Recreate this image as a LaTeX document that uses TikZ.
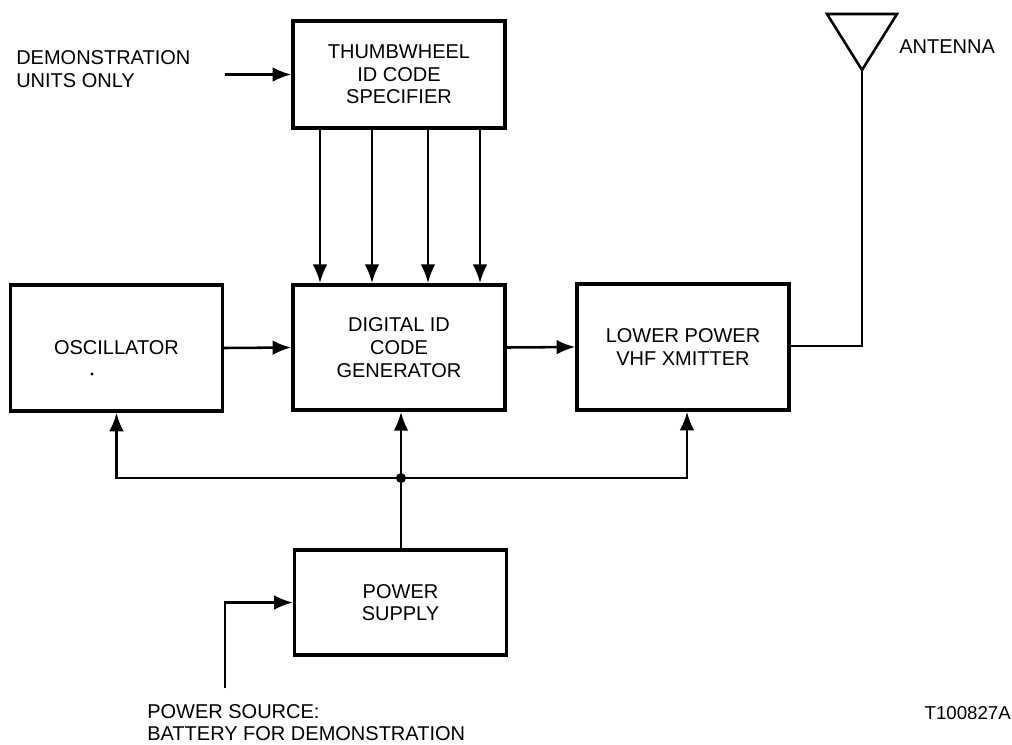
\documentclass[tikz,border=0pt]{standalone}
\usepackage{fontspec}
\setmainfont{Liberation Sans}
\usetikzlibrary{arrows.meta}
\tikzset{
  blk/.style={draw, line width=2.6pt, minimum width=159pt, align=center, inner sep=0pt},
  conn/.style={line width=1.9pt},
  tip/.style={-{Latex[length=14pt,width=11pt]}},
  lbl/.style={align=left, inner sep=0pt}
}
\begin{document}
\begin{tikzpicture}[x=0.75pt,y=0.75pt,yscale=-1,xscale=1,
  font=\fontsize{15}{17}\selectfont]
\useasboundingbox (0,0) rectangle (1012,744);
%Blocks
\node[blk, minimum height=80pt] (thumb) at (399,74.5) {THUMBWHEEL\\ID CODE\\SPECIFIER};
\node[blk, minimum height=94.5pt] (osc) at (116.5,348) {OSCILLATOR};
\node[blk, minimum height=94pt] (dig) at (399,347.5) {DIGITAL ID\\CODE\\GENERATOR};
\node[blk, minimum height=94.5pt] (xmit) at (683,347) {LOWER POWER\\VHF XMITTER};
\node[blk, minimum height=79pt] (psu) at (400.5,602.5) {POWER\\SUPPLY};
%small speck in oscillator
\fill (92,374) circle (1.6);

% Text Node
\node[lbl, anchor=west] (demo) at (16,69) {DEMONSTRATION\\UNITS ONLY};
% Text Node
\node[lbl, anchor=west] (src) at (147,722.5) {POWER SOURCE:\\BATTERY FOR DEMONSTRATION};
% Text Node
\node[lbl, anchor=west] (anttxt) at (899,47) {ANTENNA};
% Text Node
\node[lbl, anchor=east, font=\fontsize{14}{16}\selectfont] (fig) at (1011,713) {T100827A};

%Coordinates
\coordinate (demoin) at (225,74.5);
\coordinate (srcin) at (225,688);
\coordinate (bus) at (401,478);
\coordinate (ant) at (862,70);
\coordinate (antbend) at (862,346);

%Shape: Antenna
\draw[conn, line join=miter] (827,14) -- (897,14) -- (ant) -- cycle;

%Straight Lines
\draw[conn, tip] (demoin) -- (thumb.west);
\foreach \xx in {320,372,428,480}
  \draw[conn, tip] (thumb.south -| \xx,0) -- (dig.north -| \xx,0);
\draw[conn, tip] (osc.east) -- (dig.west);
\draw[conn, tip] (dig.east) -- (xmit.west);
\draw[conn] (xmit.east |- antbend) -- (antbend) -- (ant);

%Power bus
\draw[conn] (psu.north -| bus) -- (bus);
\draw[conn, tip] (bus) -- (dig.south -| bus);
\draw[conn, tip] (bus) -| (osc.south);
\draw[conn, tip] (bus) -| (xmit.south -| 687,0);
\fill (bus) circle (5);
\draw[conn, tip] (srcin) |- (psu.west);
\end{tikzpicture}
\end{document}
